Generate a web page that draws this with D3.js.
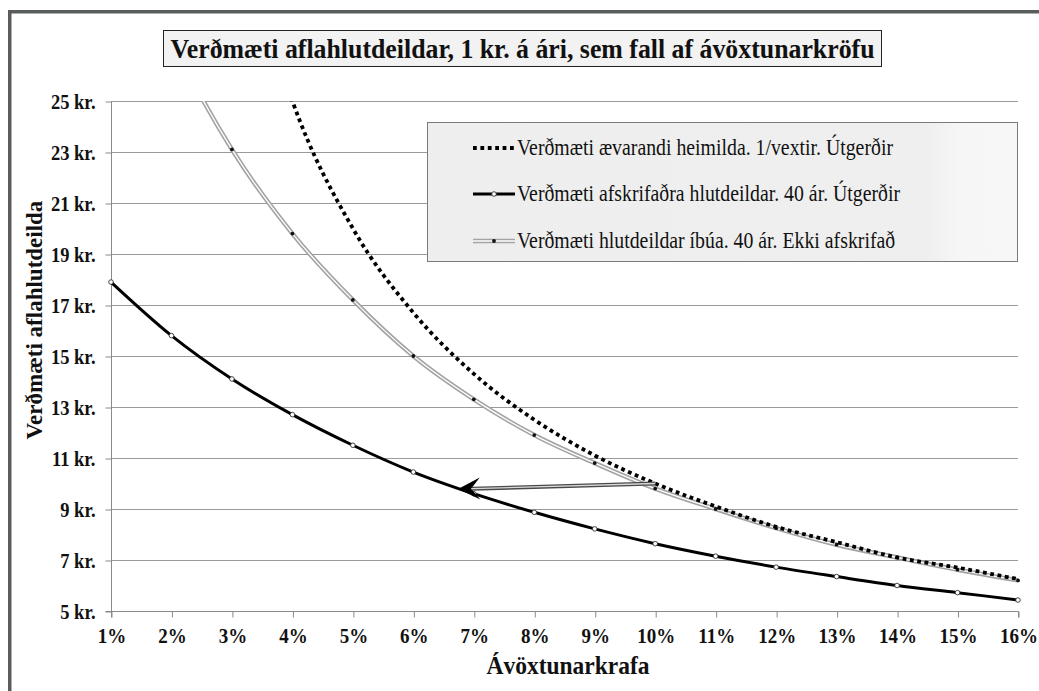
<!DOCTYPE html>
<html><head><meta charset="utf-8">
<script src="https://cdn.jsdelivr.net/npm/d3@7"></script>
</head>
<body style="margin:0;background:#fff">
<svg id="c" width="1039" height="691" style="display:block"></svg>
<script>
// ---- data ----
const rates = [1,2,3,4,5,6,7,8,9,10,11,12,13,14,15,16];          // Ávöxtunarkrafa (%)
const perpetual = [100,50,33.3,25,20,16.7,14.3,12.5,11.1,10,9.1,8.3,7.7,7.1,6.7,6.25];   // 1/vextir
const depreciated = [17.9,15.8,14.1,12.7,11.5,10.45,9.6,8.87,8.22,7.64,7.15,6.72,6.35,6.0,5.72,5.43];
const residents = [32.8,27.4,23.1,19.8,17.2,15.0,13.3,11.9,10.8,9.8,9.0,8.25,7.6,7.1,6.62,6.2];
const yTicks = [5,7,9,11,13,15,17,19,21,23,25];
const seriesNames = [
  "Verðmæti ævarandi heimilda. 1/vextir. Útgerðir",
  "Verðmæti afskrifaðra hlutdeildar. 40 ár. Útgerðir",
  "Verðmæti hlutdeildar íbúa. 40 ár. Ekki afskrifað"
];
const titleText = "Verðmæti aflahlutdeildar, 1 kr. á ári, sem fall af ávöxtunarkröfu";
const xTitle = "Ávöxtunarkrafa";
const yTitle = "Verðmæti aflahlutdeilda";
const arrowFrom = [10, 10];    // [rate, kr]
const arrowTo = [6.74, 9.78];

const FONT = '"Liberation Serif", "Times New Roman", serif';
const STRETCH = 1.15;

// ---- layout ----
const svg = d3.select("#c");
const L = 111, R = 1018, T = 101, B = 611;
const x = d3.scaleLinear().domain([1,16]).range([L,R]);
const y = d3.scaleLinear().domain([5,25]).range([B,T]);

// frame
svg.append("rect").attr("x",8).attr("y",10).attr("width",1031).attr("height",3.5).attr("fill","#5a5d5e");
svg.append("rect").attr("x",8).attr("y",10).attr("width",3.5).attr("height",681).attr("fill","#5a5d5e");

// title
const tg = svg.append("g");
tg.append("rect").attr("x",163.5).attr("y",30.5).attr("width",718).attr("height",36)
  .attr("fill","#f2f2f2").attr("stroke","#222").attr("stroke-width",1);
tg.append("text").attr("transform","translate(522.5,57.5) scale(1,1.1)").attr("text-anchor","middle")
  .style("font-family",FONT).attr("font-size",25).attr("font-weight","bold").attr("fill","#111")
  .attr("textLength",704).attr("lengthAdjust","spacingAndGlyphs")
  .text(titleText);

// gridlines
svg.append("g").selectAll("line").data(yTicks.filter(d=>d>5)).join("line")
  .attr("x1",L).attr("x2",R).attr("y1",d=>y(d)+0.5).attr("y2",d=>y(d)+0.5)
  .attr("stroke","#9a9a9a").attr("stroke-width",1);

// axes
const yAxis = svg.append("g").attr("transform",`translate(${L+0.5},0.5)`)
  .call(d3.axisLeft(y).tickValues(yTicks).tickFormat(d=>d+" kr.").tickSize(6).tickPadding(10));
const xAxis = svg.append("g").attr("transform",`translate(0.5,${B+0.5})`)
  .call(d3.axisBottom(x).tickValues(rates).tickFormat(d=>d+"%").tickSize(6).tickPadding(8));
[yAxis,xAxis].forEach(a=>{
  a.selectAll(".domain").attr("stroke","#8a8a8a");
  a.selectAll(".tick line").attr("stroke","#8a8a8a");
  a.selectAll("text").style("font-family",FONT).attr("font-weight","bold").attr("fill","#111")
    .attr("transform",`scale(1,${STRETCH})`);
});
yAxis.selectAll("text").attr("font-size",18.5);
xAxis.selectAll("text").attr("font-size",19);
yAxis.select(".domain").attr("d",`M-6,${B}H0V${T}`);
xAxis.select(".domain").attr("d",`M${L},6V0H${R}V6`);

// axis titles
svg.append("text").attr("transform","translate(568,674) scale(1,1.1)").attr("text-anchor","middle").style("font-family",FONT)
  .attr("font-size",23.5).attr("font-weight","bold").attr("fill","#111").text(xTitle);
svg.append("text").attr("transform","translate(42,320) rotate(-90)").attr("text-anchor","middle").style("font-family",FONT)
  .attr("font-size",23).attr("font-weight","bold").attr("fill","#111").text(yTitle);

// clip
svg.append("clipPath").attr("id","pc").append("rect").attr("x",L-6).attr("y",T).attr("width",R-L+12).attr("height",B-T+6);
const plot = svg.append("g").attr("clip-path","url(#pc)");

const line = d3.line().x((d,i)=>x(rates[i])).y(d=>y(d)).curve(d3.curveCatmullRom.alpha(0));

// gray double line (residents)
plot.append("path").datum(residents).attr("d",line).attr("fill","none").attr("stroke","#a3a3a3").attr("stroke-width",4.5);
plot.append("path").datum(residents).attr("d",line).attr("fill","none").attr("stroke","#fff").attr("stroke-width",1.3);
plot.append("g").selectAll("circle").data(residents).join("circle")
  .attr("cx",(d,i)=>x(rates[i])).attr("cy",d=>y(d)).attr("r",1.9).attr("fill","#111");

// dotted line (perpetual)
plot.append("path").datum(perpetual).attr("d",line).attr("fill","none").attr("stroke","#000")
  .attr("stroke-width",3.8).attr("stroke-dasharray","3.8,3.6");

// black line (depreciated)
plot.append("path").datum(depreciated).attr("d",line).attr("fill","none").attr("stroke","#000").attr("stroke-width",3);
plot.append("g").selectAll("circle").data(depreciated).join("circle")
  .attr("cx",(d,i)=>x(rates[i])).attr("cy",d=>y(d)).attr("r",2.3).attr("fill","#fff").attr("stroke","#333").attr("stroke-width",0.9);

// arrow
const ax1 = x(arrowFrom[0]), ay1 = y(arrowFrom[1]), ax2 = x(arrowTo[0]), ay2 = y(arrowTo[1]);
const ang = Math.atan2(ay2-ay1, ax2-ax1);
const back = 14;
const bx = ax2 - back*Math.cos(ang), by = ay2 - back*Math.sin(ang);
svg.append("line").attr("x1",ax1).attr("y1",ay1).attr("x2",bx).attr("y2",by).attr("stroke","#4a4a4a").attr("stroke-width",4);
svg.append("line").attr("x1",ax1).attr("y1",ay1).attr("x2",bx).attr("y2",by).attr("stroke","#d8d8d8").attr("stroke-width",1.3);
{
  const c = Math.cos(ang), s = Math.sin(ang);
  const pt = (u,v)=>[ax2 + u*c - v*s, ay2 + u*s + v*c];
  const p = [pt(0,0), pt(-22,-11), pt(-13,0), pt(-22,11)];
  svg.append("path").attr("d","M"+p.map(q=>q.join(",")).join("L")+"Z").attr("fill","#000");
}

// legend
const lg = svg.append("g");
const grad = svg.append("defs").append("linearGradient").attr("id","lgbg").attr("x1","0").attr("x2","1");
grad.append("stop").attr("offset","0").attr("stop-color","#eeeeee");
grad.append("stop").attr("offset","0.85").attr("stop-color","#efefef");
grad.append("stop").attr("offset","0.9").attr("stop-color","#f6f6f6");
grad.append("stop").attr("offset","1").attr("stop-color","#f7f7f7");
lg.append("rect").attr("x",427.5).attr("y",122.5).attr("width",590).attr("height",139)
  .attr("fill","url(#lgbg)").attr("stroke","#7a7a7a").attr("stroke-width",1);
const rowsY = [148, 194, 241];
const sx1 = 473, sx2 = 515;
lg.append("line").attr("x1",sx1).attr("x2",sx2).attr("y1",rowsY[0]).attr("y2",rowsY[0])
  .attr("stroke","#000").attr("stroke-width",3.8).attr("stroke-dasharray","3.8,3.6");
lg.append("line").attr("x1",sx1).attr("x2",sx2).attr("y1",rowsY[1]).attr("y2",rowsY[1]).attr("stroke","#000").attr("stroke-width",3);
lg.append("circle").attr("cx",(sx1+sx2)/2).attr("cy",rowsY[1]).attr("r",2.3).attr("fill","#fff").attr("stroke","#333").attr("stroke-width",0.9);
lg.append("line").attr("x1",sx1).attr("x2",sx2).attr("y1",rowsY[2]).attr("y2",rowsY[2]).attr("stroke","#a3a3a3").attr("stroke-width",4.5);
lg.append("line").attr("x1",sx1).attr("x2",sx2).attr("y1",rowsY[2]).attr("y2",rowsY[2]).attr("stroke","#fff").attr("stroke-width",1.3);
lg.append("circle").attr("cx",(sx1+sx2)/2).attr("cy",rowsY[2]).attr("r",1.9).attr("fill","#111");
lg.selectAll("text.lt").data(seriesNames).join("text").attr("class","lt").style("font-family",FONT)
  .attr("transform",(d,i)=>`translate(517,${rowsY[i]+7}) scale(1,${STRETCH})`)
  .attr("font-size",19.8).attr("fill","#111").text(d=>d);
</script>
</body></html>
